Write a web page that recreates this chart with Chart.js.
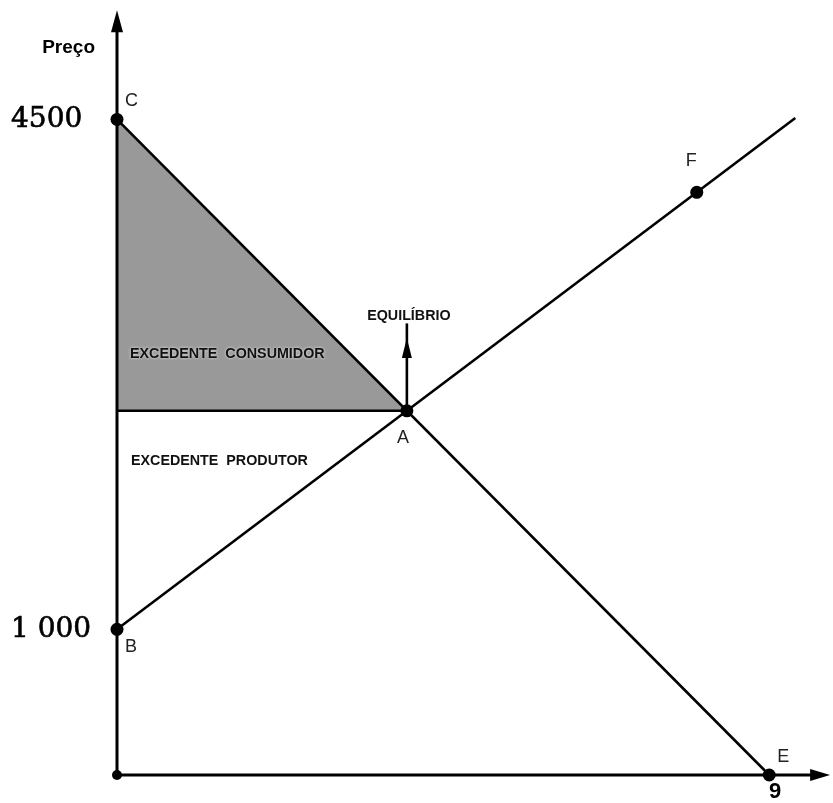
<!DOCTYPE html>
<html>
<head>
<meta charset="utf-8">
<script src="https://cdn.jsdelivr.net/npm/chart.js@4/dist/chart.umd.min.js"></script>
<style>
  html, body { margin: 0; padding: 0; background: #fff; }
  #wrap { width: 833px; height: 803px; }
</style>
</head>
<body>
<div id="wrap"><canvas id="graph" width="833" height="803"></canvas></div>
<script>
// pontos nomeados (quantidade, preço)
const pointNames = ['C', 'B', 'A', 'E', 'F'];
const pointQty = [0, 0, 4, 9, 8];
const pointPrice = [4500, 1000, 2500, 0, 4000];

// curvas de demanda e oferta
const demandQty = [0, 9];
const demandPrice = [4500, 0];
const supplyQty = [0, 9.36];
const supplyPrice = [1000, 4510];

// preço de equilíbrio e seta
const eqQty = 4;
const eqPrice = 2500;
const eqArrowTop = 3000;

// rótulos dos eixos
const yTickValues = [4500, 1000];
const yTickLabels = ['4500', '1 000'];
const xTickValues = [9];
const xTickLabels = ['9'];
const yAxisTitle = 'Preço';

// limites dos eixos (pontas das setas)
const xAxisEnd = 9.84;
const yAxisEnd = 5250;

const toXY = (xs, ys) => xs.map((x, i) => ({ x: x, y: ys[i] }));

function CreateDecorPlugin() {
  return {
    id: 'decor',
    beforeDatasetsDraw: (chart) => {
      const ctx = chart.ctx;
      const xs = chart.scales.x;
      const ys = chart.scales.y;
      // triângulo do excedente do consumidor
      ctx.save();
      ctx.fillStyle = '#999999';
      ctx.beginPath();
      ctx.moveTo(xs.getPixelForValue(0), ys.getPixelForValue(demandPrice[0]));
      ctx.lineTo(xs.getPixelForValue(eqQty), ys.getPixelForValue(eqPrice));
      ctx.lineTo(xs.getPixelForValue(0), ys.getPixelForValue(eqPrice));
      ctx.closePath();
      ctx.fill();
      ctx.restore();
    },
    afterDatasetsDraw: (chart) => {
      const ctx = chart.ctx;
      const xs = chart.scales.x;
      const ys = chart.scales.y;
      const px = v => xs.getPixelForValue(v);
      const py = v => ys.getPixelForValue(v);

      ctx.save();
      ctx.fillStyle = '#000';
      // seta do eixo y
      let tx = px(0), ty = py(yAxisEnd);
      ctx.beginPath();
      ctx.moveTo(tx, ty);
      ctx.lineTo(tx - 6, ty + 22);
      ctx.lineTo(tx + 6, ty + 22);
      ctx.closePath();
      ctx.fill();
      // seta do eixo x
      tx = px(xAxisEnd); ty = py(0);
      ctx.beginPath();
      ctx.moveTo(tx, ty);
      ctx.lineTo(tx - 20, ty - 6);
      ctx.lineTo(tx - 20, ty + 6);
      ctx.closePath();
      ctx.fill();
      // seta do equilíbrio
      tx = px(eqQty); ty = py(eqArrowTop);
      ctx.beginPath();
      ctx.moveTo(tx, ty);
      ctx.lineTo(tx - 5, ty + 20);
      ctx.lineTo(tx + 5, ty + 20);
      ctx.closePath();
      ctx.fill();

      // rótulos do eixo y (um pouco mais grossos)
      ctx.font = '28px "DejaVu Serif"';
      ctx.textAlign = 'left';
      ctx.textBaseline = 'middle';
      ctx.strokeStyle = '#000';
      ctx.lineWidth = 0.6;
      yTickValues.forEach((v, i) => {
        ctx.fillText(yTickLabels[i], 11, py(v));
        ctx.strokeText(yTickLabels[i], 11, py(v));
      });
      // rótulos do eixo x
      ctx.font = 'bold 22px "Liberation Sans"';
      ctx.textAlign = 'center';
      ctx.textBaseline = 'top';
      xTickValues.forEach((v, i) => ctx.fillText(xTickLabels[i], px(v) + 6, py(0) + 6));

      // título do eixo y
      ctx.font = 'bold 19px "Liberation Sans"';
      ctx.textAlign = 'right';
      ctx.textBaseline = 'middle';
      ctx.fillText(yAxisTitle, px(0) - 22, py(yAxisEnd) + 38);

      // letras dos pontos
      ctx.fillStyle = '#222';
      ctx.font = '18px "Liberation Sans"';
      ctx.textAlign = 'left';
      ctx.textBaseline = 'middle';
      const offsets = {
        C: [8, -18], B: [8, 18], A: [-10, 27], E: [8, -18], F: [-11, -31]
      };
      pointNames.forEach((n, i) => {
        const o = offsets[n];
        ctx.fillText(n, px(pointQty[i]) + o[0], py(pointPrice[i]) + o[1]);
      });

      // textos das áreas
      ctx.fillStyle = '#111';
      ctx.shadowColor = 'rgba(255,255,255,0.8)';
      ctx.shadowBlur = 3;
      ctx.font = 'bold 14.3px "Liberation Sans"';
      ctx.textAlign = 'left';
      ctx.fillText('EXCEDENTE  CONSUMIDOR', px(0) + 13, py(eqPrice) - 57);
      ctx.fillText('EXCEDENTE  PRODUTOR', px(0) + 14, py(eqPrice) + 50);
      ctx.textAlign = 'center';
      ctx.fillText('EQUILÍBRIO', px(eqQty) + 2, py(eqArrowTop) - 22);
      ctx.restore();
    }
  };
}

const lineStyle = {
  showLine: true,
  borderColor: '#000',
  borderWidth: 2.6,
  pointRadius: 0,
  fill: false,
  clip: false
};

new Chart(document.getElementById('graph'), {
  type: 'scatter',
  data: {
    datasets: [
      Object.assign({ data: [{ x: 0, y: 0 }, { x: xAxisEnd - 0.15, y: 0 }] }, lineStyle, { borderWidth: 3 }),
      Object.assign({ data: [{ x: 0, y: 0 }, { x: 0, y: yAxisEnd - 80 }] }, lineStyle, { borderWidth: 3 }),
      Object.assign({ data: [{ x: 0, y: eqPrice }, { x: eqQty, y: eqPrice }] }, lineStyle),
      Object.assign({ data: [{ x: eqQty, y: eqPrice }, { x: eqQty, y: eqArrowTop + 100 }] }, lineStyle),
      Object.assign({ data: toXY(demandQty, demandPrice) }, lineStyle),
      Object.assign({ data: toXY(supplyQty, supplyPrice) }, lineStyle),
      {
        data: toXY(pointQty, pointPrice),
        pointRadius: 6.5,
        pointBackgroundColor: '#000',
        pointBorderWidth: 0,
        showLine: false,
        clip: false
      },
      {
        data: [{ x: 0, y: 0 }],
        pointRadius: 5,
        pointBackgroundColor: '#000',
        pointBorderWidth: 0,
        showLine: false,
        clip: false
      }
    ]
  },
  options: {
    responsive: false,
    animation: false,
    layout: { autoPadding: false, padding: { left: 117, bottom: 28, top: 0, right: 0 } },
    scales: {
      x: { type: 'linear', min: 0, max: 9.88, display: false },
      y: { type: 'linear', min: 0, max: 5320, display: false }
    },
    plugins: {
      legend: { display: false },
      tooltip: { enabled: false }
    },
    elements: { line: { tension: 0 } }
  },
  plugins: [CreateDecorPlugin()]
});
</script>
</body>
</html>
